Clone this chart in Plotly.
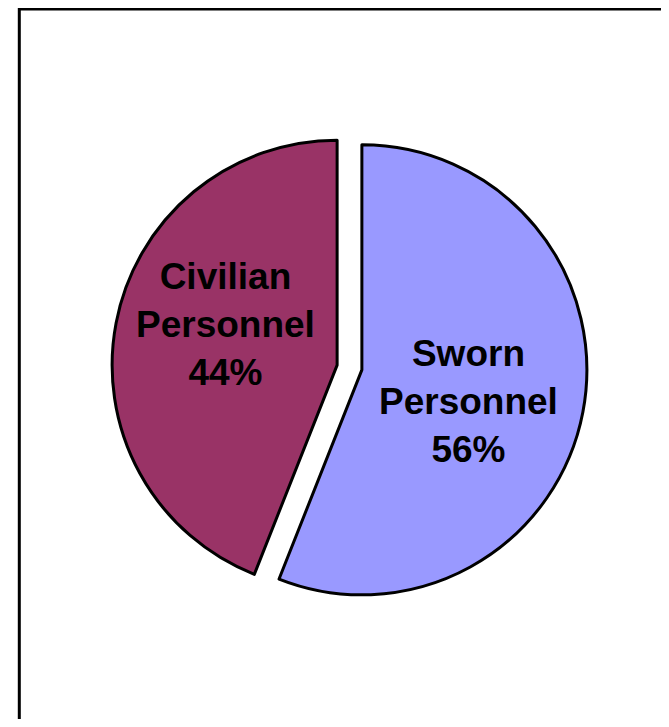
import plotly.graph_objects as go

# data
labels = ["Sworn<br>Personnel", "Civilian<br>Personnel"]
values = [56, 44]
colors = ["#9999FF", "#993366"]

# label anchor points (pixels in the figure)
label_pos = [(460.5, 393), (217, 316)]

# page has an 8px body margin, keep the figure inside the window
W, H = 653, 711

fig = go.Figure()
fig.add_trace(go.Pie(
    labels=labels,
    values=values,
    sort=False,
    direction="clockwise",
    rotation=0,
    pull=[0.056, 0.056],
    marker=dict(colors=colors, line=dict(color="black", width=3)),
    textinfo="none",
    hoverinfo="label+percent",
    showlegend=False,
    domain=dict(x=[103.9 / W, 579.1 / W], y=[1 - 597.1 / H, 1 - 121.9 / H]),
))

total = sum(values)
for lab, v, (px, py) in zip(labels, values, label_pos):
    fig.add_annotation(
        text=f"{lab}<br>{round(v / total * 100)}%",
        x=px / W, y=1 - py / H, xref="paper", yref="paper",
        xanchor="center", yanchor="middle", showarrow=False,
        font=dict(family="Liberation Sans", size=37, color="black", weight="bold"),
    )

# outer chart frame (only top and left edges fall inside the page)
fig.add_shape(type="rect", xref="paper", yref="paper",
              x0=11.3 / W, x1=1.2, y0=-0.2, y1=1 - 1.0 / H,
              line=dict(color="black", width=3), layer="below")

fig.update_layout(
    width=W, height=H,
    margin=dict(l=0, r=0, t=0, b=0),
    paper_bgcolor="white",
    plot_bgcolor="white",
)

fig.write_html("out.html")
